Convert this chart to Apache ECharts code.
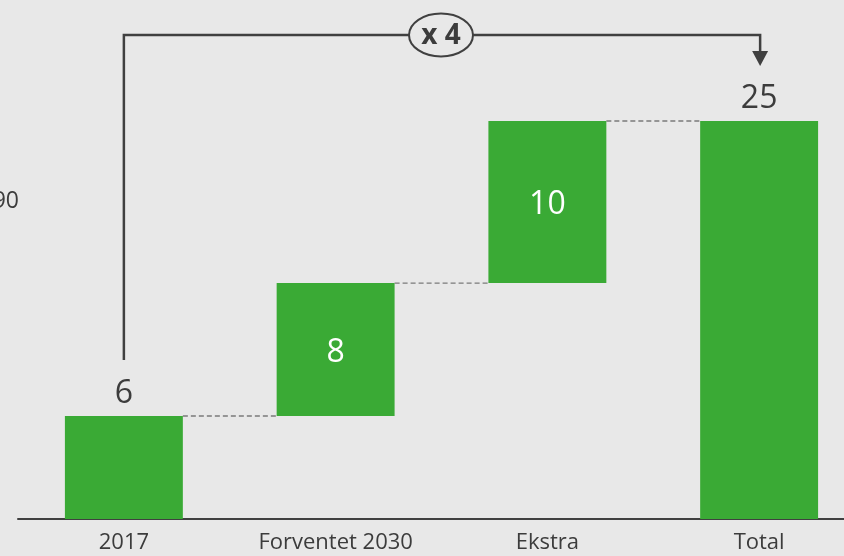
<!DOCTYPE html>
<html>
<head>
<meta charset="utf-8">
<script src="https://cdn.jsdelivr.net/npm/echarts@6/dist/echarts.min.js"></script>
<style>
  html, body { margin: 0; padding: 0; background: #e8e8e8; overflow: hidden; }
  /* the plot runs past the right edge of the page, so the canvas is a bit wider */
  #chart { width: 865px; height: 556px; }
</style>
</head>
<body>
<div id="chart"></div>
<script>
// Waterfall: 2017 level, expected growth to 2030, extra growth, total
const categories = ['2017', 'Forventet 2030', 'Ekstra', 'Total'];
const steps = [6.47, 8.35, 10.18];          // increments (labels shown rounded)
const total = steps.reduce((a, b) => a + b, 0);
const factorText = 'x 4';
const sideText = '90';

// invisible base under each floating bar
const bases = [0, steps[0], steps[0] + steps[1], 0];
const heights = [steps[0], steps[1], steps[2], total];
// level reached after each bar, used for the dashed connectors
const levels = [steps[0], steps[0] + steps[1], total];

const GREEN = '#3aaa35';
const DARK = '#3c3c3c';
const FONT = '"Open Sans", "Noto Sans", sans-serif';
const BAR_RATIO = 0.557;

const chart = echarts.init(document.getElementById('chart'), null, { renderer: 'canvas' });

const option = {
  backgroundColor: '#e8e8e8',
  animation: false,
  grid: { left: 18, right: 0, top: 121, bottom: 37, containLabel: false },
  xAxis: {
    type: 'category',
    data: categories,
    axisLine: { lineStyle: { color: '#404040', width: 2 } },
    axisTick: { show: false },
    axisLabel: { color: DARK, fontSize: 22, fontFamily: FONT, margin: 13 }
  },
  yAxis: {
    type: 'value',
    min: 0,
    max: v => v.max,
    show: false,
    splitLine: { show: false }
  },
  series: [
    {
      type: 'bar',
      stack: 'wf',
      data: bases,
      itemStyle: { color: 'transparent' },
      barWidth: (BAR_RATIO * 100) + '%',
      silent: true
    },
    {
      type: 'bar',
      stack: 'wf',
      barWidth: (BAR_RATIO * 100) + '%',
      data: heights.map((v, i) => {
        const inside = i === 1 || i === 2;
        return {
          value: v,
          label: {
            show: true,
            position: inside ? 'inside' : 'top',
            distance: 6,
            offset: inside ? [0, 3] : [0, 0],
            color: inside ? '#ffffff' : DARK,
            fontSize: 32,
            fontFamily: FONT,
            formatter: p => String(Math.round(p.value))
          }
        };
      }),
      itemStyle: { color: GREEN }
    },
    {
      type: 'custom',
      data: levels.map((y, i) => [i, y]),
      z: 1,
      renderItem: (params, api) => {
        const i = api.value(0);
        const y = api.value(1);
        const band = api.size([1, 0])[0];
        const half = band * BAR_RATIO / 2;
        const a = api.coord([i, y]);
        const b = api.coord([i + 1, y]);
        return {
          type: 'line',
          shape: { x1: a[0] + half, y1: a[1], x2: b[0] - half, y2: b[1] },
          style: { stroke: '#7a7a7a', lineWidth: 1.3, lineDash: [5, 3] }
        };
      }
    }
  ]
};
chart.setOption(option);

// Bracket arrow from the 2017 value to the total, with the growth factor
const p0 = chart.convertToPixel({ xAxisIndex: 0, yAxisIndex: 0 }, [0, steps[0]]);
const p3 = chart.convertToPixel({ xAxisIndex: 0, yAxisIndex: 0 }, [3, total]);
const topY = 35;
const x0 = p0[0];
const x3 = p3[0] + 1;
const startY = p0[1] - 56;
const tipY = p3[1] - 55;
const cx = 441;
const rx = 32, ry = 21.5;
const lineStyle = { stroke: '#404040', lineWidth: 2.5, fill: null };

chart.setOption({
  graphic: [
    {
      type: 'polyline',
      shape: { points: [[x0, startY], [x0, topY], [cx - rx, topY]] },
      style: lineStyle
    },
    {
      type: 'polyline',
      shape: { points: [[cx + rx, topY], [x3, topY], [x3, tipY - 12]] },
      style: lineStyle
    },
    {
      type: 'polygon',
      shape: { points: [[x3 - 8, tipY - 15], [x3 + 8, tipY - 15], [x3, tipY]] },
      style: { fill: '#404040' }
    },
    {
      type: 'ellipse',
      shape: { cx: cx, cy: topY, rx: rx, ry: ry },
      style: { stroke: '#404040', lineWidth: 2, fill: '#e8e8e8' }
    },
    {
      type: 'text',
      x: cx,
      y: topY + 1,
      style: {
        text: factorText,
        fill: DARK,
        font: 'bold 28px ' + FONT,
        align: 'center',
        verticalAlign: 'middle'
      }
    },
    {
      type: 'text',
      x: 19,
      y: 201,
      style: {
        text: sideText,
        fill: DARK,
        font: '23px ' + FONT,
        align: 'right',
        verticalAlign: 'middle'
      }
    }
  ]
});
</script>
</body>
</html>
